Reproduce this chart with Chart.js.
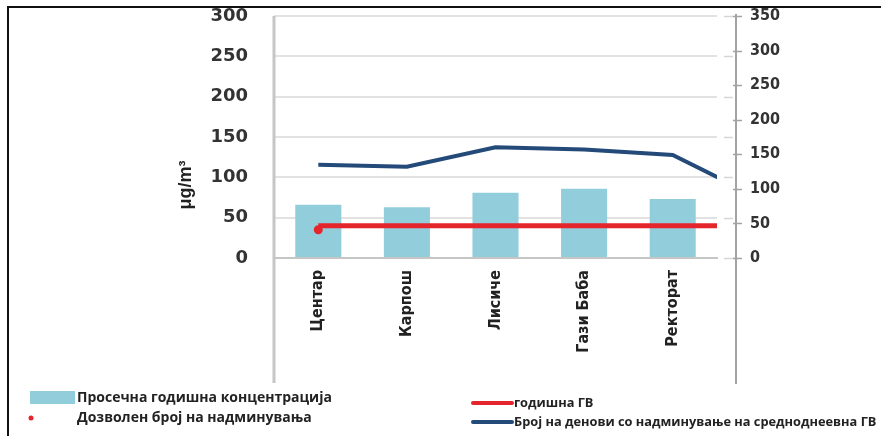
<!DOCTYPE html>
<html>
<head>
<meta charset="utf-8">
<script src="https://cdn.jsdelivr.net/npm/chart.js@4.4.0/dist/chart.umd.min.js"></script>
<style>
  html, body { margin: 0; padding: 0; background: #fff; }
  #wrap { width: 881px; height: 436px; }
</style>
</head>
<body>
<div id="wrap"><canvas id="pmChart" width="881" height="436"></canvas></div>
<script>
// measuring stations (the blank one only carries the tail of the lines)
const stations = ["Центар", "Карпош", "Лисиче", "Гази Баба", "Ректорат", ""];
const shownStations = 5;
// average annual concentration, µg/m3 (left axis)
const annualMean = [66, 63, 81, 86, 73];
// annual limit value, µg/m3
const annualLimit = [40, 40, 40, 40, 40, 40];
// allowed number of exceedances
const allowedExceed = [35, null, null, null, null];
// days over the daily limit (right axis), last point lies past the plot edge
const daysOver = [135, 132, 160, 157, 149, 85];

const leftRange = { min: 0, max: 300, step: 50 };
const rightRange = { min: 0, max: 350, step: 50 };

const barColor = "#92cddc";
const redColor = "#e4252b";
const blueColor = "#234a78";
const textColor = "#222";

const narrow = '"Liberation Sans Narrow", "DejaVu Sans Condensed", sans-serif';

// lines stop exactly at the right edge of the plot
const lineClip = { left: 5, top: 5, right: 0, bottom: 5 };

// frame, extended axes, title and legend drawn around the chart
const decorations = {
    id: "decorations",
    afterDraw(chart) {
        const ctx = chart.ctx;
        const area = chart.chartArea;
        const y = chart.scales.y;
        const y2 = chart.scales.y2;
        ctx.save();

        // black frame on top and left
        ctx.strokeStyle = "#111";
        ctx.lineWidth = 2;
        ctx.beginPath();
        ctx.moveTo(8, 436);
        ctx.lineTo(8, 7);
        ctx.lineTo(881, 7);
        ctx.stroke();

        // left axis runs down through the label area
        ctx.strokeStyle = "#c6c6c6";
        ctx.lineWidth = 3;
        ctx.beginPath();
        ctx.moveTo(area.left, area.top);
        ctx.lineTo(area.left, 383);
        ctx.stroke();

        // right axis line with its ticks
        const axisX = 736;
        ctx.strokeStyle = "#a3a3a3";
        ctx.lineWidth = 2;
        ctx.beginPath();
        ctx.moveTo(axisX, y2.getPixelForValue(rightRange.max) - 2);
        ctx.lineTo(axisX, 384);
        ctx.stroke();
        ctx.lineWidth = 1.5;
        for (let v = rightRange.min; v <= rightRange.max; v += rightRange.step) {
            const py = Math.round(y2.getPixelForValue(v)) + 0.5;
            ctx.beginPath();
            ctx.moveTo(axisX - 3, py);
            ctx.lineTo(axisX + 6, py);
            ctx.stroke();
        }
        // short stubs of the left grid next to the right axis
        ctx.strokeStyle = "#d6d6d6";
        for (let v = leftRange.min; v <= leftRange.max; v += leftRange.step) {
            const py = Math.round(y.getPixelForValue(v)) + 0.5;
            ctx.beginPath();
            ctx.moveTo(724, py);
            ctx.lineTo(733, py);
            ctx.stroke();
        }

        // unit title
        ctx.fillStyle = textColor;
        ctx.font = 'bold 18px "Liberation Sans", Arial, sans-serif';
        ctx.translate(186, 185);
        ctx.rotate(-Math.PI / 2);
        ctx.textAlign = "center";
        ctx.textBaseline = "middle";
        ctx.fillText("μg/m³", 0, 0);
        ctx.setTransform(1, 0, 0, 1, 0, 0);

        // legend
        const ds = chart.data.datasets;
        ctx.textAlign = "left";
        ctx.textBaseline = "middle";
        ctx.fillStyle = barColor;
        ctx.fillRect(30, 391, 45, 13);
        ctx.fillStyle = redColor;
        ctx.beginPath();
        ctx.arc(31, 418, 2.5, 0, Math.PI * 2);
        ctx.fill();
        ctx.fillStyle = textColor;
        ctx.font = 'bold 14px "Open Sans", sans-serif';
        ctx.fillText(ds[0].label, 77, 398);
        ctx.fillText(ds[3].label, 77, 418);

        ctx.lineWidth = 4;
        ctx.lineCap = "round";
        ctx.strokeStyle = redColor;
        ctx.beginPath();
        ctx.moveTo(473, 403);
        ctx.lineTo(512, 403);
        ctx.stroke();
        ctx.strokeStyle = blueColor;
        ctx.beginPath();
        ctx.moveTo(473, 422);
        ctx.lineTo(512, 422);
        ctx.stroke();
        ctx.font = 'bold 12.8px "Open Sans", sans-serif';
        ctx.fillText(ds[1].label, 514, 403);
        ctx.fillText(ds[2].label, 514, 422);

        ctx.restore();
    }
};

// vertical axes: fixed width, no extra top/bottom padding from tick spacing
const fixWidth = w => s => {
    s.width = w;
    s.paddingTop = 0;
    s.paddingBottom = 0;
};

new Chart(document.getElementById("pmChart"), {
    type: "bar",
    data: {
        labels: stations,
        datasets: [
            {
                type: "bar",
                label: "Просечна годишна концентрација",
                data: annualMean,
                backgroundColor: barColor,
                categoryPercentage: 1,
                barPercentage: 0.52,
                yAxisID: "y",
                order: 4
            },
            {
                type: "line",
                label: "годишна ГВ",
                data: annualLimit,
                borderColor: redColor,
                borderWidth: 5,
                pointRadius: 0,
                clip: lineClip,
                yAxisID: "y",
                order: 3
            },
            {
                type: "line",
                label: "Број на денови со надминување на средноднеевна ГВ",
                data: daysOver,
                borderColor: blueColor,
                borderWidth: 4,
                pointRadius: 0,
                clip: lineClip,
                yAxisID: "y2",
                order: 2
            },
            {
                type: "line",
                label: "Дозволен број на надминувања",
                data: allowedExceed,
                showLine: false,
                pointRadius: 4.5,
                pointBackgroundColor: redColor,
                pointBorderWidth: 0,
                yAxisID: "y",
                order: 1
            }
        ]
    },
    options: {
        responsive: false,
        animation: false,
        layout: { padding: { top: 16, left: 0, right: 0, bottom: 0 } },
        plugins: {
            legend: { display: false },
            tooltip: { enabled: false }
        },
        scales: {
            x: {
                offset: true,
                grid: { display: false, drawTicks: false },
                border: { color: "#c6c6c6", width: 2 },
                ticks: {
                    autoSkip: false,
                    minRotation: 90,
                    maxRotation: 90,
                    padding: 12,
                    color: textColor,
                    font: { family: narrow, size: 16, weight: "bold" }
                },
                // only the named stations get a slot on the axis
                afterDataLimits: s => { s.max = shownStations - 1; },
                afterFit: s => { s.height = 178; }
            },
            y: {
                position: "left",
                min: leftRange.min,
                max: leftRange.max,
                ticks: {
                    stepSize: leftRange.step,
                    padding: 26,
                    color: "#333",
                    font: { family: '"DejaVu Sans", sans-serif', size: 18, weight: "bold" }
                },
                grid: { color: "#e2e2e2", lineWidth: 2, drawTicks: false },
                border: { display: false },
                afterFit: fixWidth(274)
            },
            y2: {
                position: "right",
                min: rightRange.min,
                max: rightRange.max,
                ticks: {
                    stepSize: rightRange.step,
                    padding: 33,
                    color: "#333",
                    font: { family: narrow, size: 16, weight: "bold" }
                },
                grid: { drawOnChartArea: false, drawTicks: false },
                border: { display: false },
                afterFit: fixWidth(164)
            }
        }
    },
    plugins: [decorations]
});
</script>
</body>
</html>
